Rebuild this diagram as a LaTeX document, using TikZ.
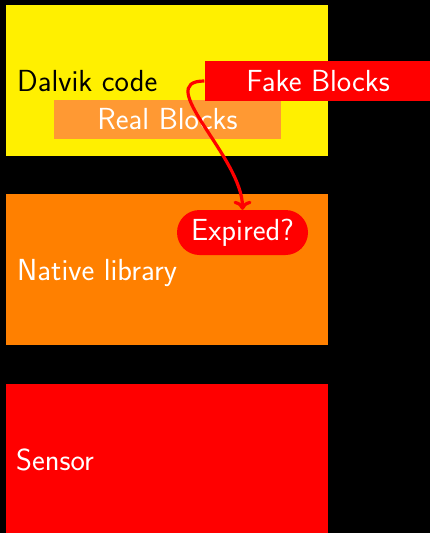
\documentclass[tikz,border=0pt]{standalone}
\usepackage{fontspec}
\usetikzlibrary{arrows.meta,shapes.misc}
\definecolor{dalvikyellow}{RGB}{255,240,0}
\definecolor{nativeorange}{RGB}{255,128,0}
\definecolor{sensorred}{RGB}{255,0,0}
\definecolor{realorange}{RGB}{255,153,51}
\begin{document}
\begin{tikzpicture}[x=1pt,y=-1pt,
  big/.style={font=\sffamily\fontsize{30.5}{36}\selectfont},
  panel/.style={fill=#1, draw=none, minimum width=322pt, minimum height=151pt,
    anchor=north west, inner sep=0pt},
  tag/.style={big, fill=#1, text=white, minimum width=227pt, minimum height=39.5pt,
    inner sep=0pt},
  lbl/.style={big, anchor=base west, inner sep=0pt},
  flow/.style={draw=sensorred, line width=3.2pt, -{To[length=9pt,width=18pt]}}
]
% page background and frame
\fill[black] (0,0) rectangle (430,533);
\useasboundingbox (0,0) rectangle (430,533);

% the three layers
\node[panel=dalvikyellow] (dalvik) at (6,5) {};
\node[panel=nativeorange] (native) at (6,194) {};
\node[panel=sensorred] (sensor) at (6,384) {};

\node[lbl, text=black] (dalviklbl) at (17,91) {Dalvik code};
\node[lbl, text=white] (nativelbl) at (17,280) {Native library};
\node[lbl, text=white] (sensorlbl) at (16,470) {Sensor};

% blocks inside the Dalvik layer
\node[tag=realorange] (real) at (167.5,119.3) {Real Blocks};
\node[tag=sensorred] (fake) at (318,81) {Fake Blocks};

% check in the native library
\node[big, rounded rectangle, fill=sensorred, text=white, minimum width=131pt,
  minimum height=45pt, inner sep=0pt] (expired) at (242.5,232.5) {Expired?};

% fake blocks go down to the expiry check
\draw[flow] (fake.west) to[out=180,in=90] (expired.north);
\end{tikzpicture}
\end{document}
